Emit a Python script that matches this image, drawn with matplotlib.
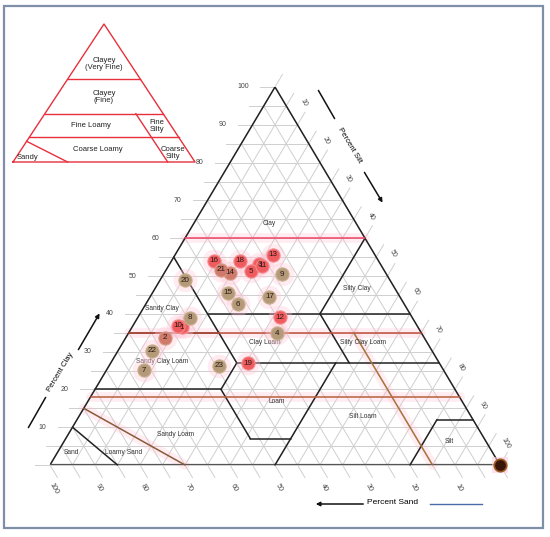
import numpy as np
import matplotlib.pyplot as plt
from matplotlib.patches import Rectangle, FancyArrowPatch

plt.rcParams['font.family'] = ['Liberation Sans', 'DejaVu Sans']

W, H = 550, 537

# soil samples: number, sand %, clay % (silt = rest)
sample_ids = [1, 2, 3, 4, 5, 6, 7, 8, 9, 10, 11, 12, 13, 14, 15, 16, 17, 18, 19, 20, 21, 22, 23]
sample_sand = [52.5, 57.7, 26.9, 32.2, 29.7, 37.0, 66.6, 49.4, 23.3, 53.1, 26.5, 29.3,
               22.6, 34.5, 37.7, 36.6, 29.0, 30.8, 42.5, 45.6, 36.2, 62.3, 49.2]
sample_clay = [36.4, 33.7, 53.1, 34.8, 51.3, 42.5, 25.1, 38.9, 50.5, 36.8, 52.7, 39.1,
               55.6, 50.9, 45.6, 54.0, 44.5, 54.0, 26.9, 48.9, 51.6, 30.2, 26.3]
sample_group = ['r', 'm', 'r', 't', 'r', 't', 't', 't', 't', 'r', 'r', 'r',
                'r', 'm', 't', 'r', 't', 'r', 'r', 't', 'm', 't', 't']
corner_sand, corner_clay = 0, 0

# USDA texture class boundaries as (sand, clay) segments
usda_lines = [
    [(45, 55), (45, 27)],
    [(45, 40), (0, 40)],
    [(0, 60), (20, 40)],
    [(65, 35), (45, 35)],
    [(45, 27), (0, 27)],
    [(20, 40), (20, 27)],
    [(45, 27), (52, 20)],
    [(80, 20), (52, 20)],
    [(52, 20), (52, 7)],
    [(52, 7), (43, 7)],
    [(23, 27), (50, 0)],
    [(20, 0), (8, 12)],
    [(8, 12), (0, 12)],
    [(90, 10), (85, 0)],
]
# family class boundaries
family_lines = [
    ([(40, 60), (0, 60)], '#ee4466'),
    ([(65, 35), (0, 35)], '#c0503c'),
    ([(82, 18), (0, 18)], '#b8603c'),
    ([(15, 35), (15, 0)], '#a8743c'),
    ([(85, 15), (70, 0)], '#8a5a3a'),
]

class_names = ['Clay', 'Silty Clay', 'Sandy Clay', 'Clay Loam', 'Silty Clay Loam',
               'Sandy Clay Loam', 'Loam', 'Silt Loam', 'Silt', 'Sandy Loam', 'Loamy Sand', 'Sand']
class_sand = [19.3, 8.4, 54.4, 36.0, 14.2, 61.4, 41.1, 24.1, 8.0, 67.9, 82.0, 93.7]
class_clay = [64.0, 46.8, 41.5, 32.5, 32.5, 27.5, 16.9, 12.7, 6.3, 8.2, 3.2, 3.2]

inset_names = ['Clayey\n(Very Fine)', 'Clayey\n(Fine)', 'Fine Loamy', 'Fine\nSilty',
               'Coarse Loamy', 'Coarse\nSilty', 'Sandy']
inset_x = [50, 50, 42.9, 79.1, 46.7, 87.9, 8.2]
inset_y = [71, 47.1, 26.1, 26.1, 8.7, 6.5, 3.6]

ticks = list(range(10, 101, 10))


def tern(sand, clay):
    silt = 100 - sand - clay
    return silt + clay / 2, clay


def draw_seg(ax, seg, **kw):
    xs, ys = zip(*[tern(s, c) for s, c in seg])
    ax.plot(xs, ys, solid_capstyle='round', clip_on=False, **kw)


fig = plt.figure(figsize=(W / 100, H / 100), dpi=100)
ax = fig.add_axes([50 / W, 72 / H, 450 / W, 378 / H])
ax.set_xlim(0, 100)
ax.set_ylim(0, 100)
ax.axis('off')

grid = dict(color='#cfcfcf', lw=0.7, zorder=1)
ext = 3.3
for v in range(0, 101, 5):
    # clay (horizontal) + tick to the left
    x0, y0 = tern(100 - v, v)
    x1, y1 = tern(0, v)
    ax.plot([x0 - ext, x1], [y0, y1], clip_on=False, **grid)
    # sand lines + tick below
    x0, y0 = tern(v, 0)
    x1, y1 = tern(v, 100 - v)
    ax.plot([x0 + ext / 2, x1], [y0 - ext, y1], clip_on=False, **grid)
    # silt lines + tick to the upper right
    x0, y0 = tern(100 - v, 0)
    x1, y1 = tern(0, 100 - v)
    ax.plot([x0, x1 + ext / 2], [y0, y1 + ext], clip_on=False, **grid)

# outline
ax.plot([0, 50, 100], [0, 100, 0], color='#222222', lw=1.1, zorder=4)
ax.plot([0, 100], [0, 0], color='#555555', lw=1.6, zorder=4)

for seg in usda_lines:
    draw_seg(ax, seg, color='#222222', lw=1.1, zorder=4)
for seg, col in family_lines:
    draw_seg(ax, seg, color='#ffb8cc', lw=7, alpha=0.25, zorder=2)
    draw_seg(ax, seg, color=col, lw=1.1, zorder=5)

for name, s, c in zip(class_names, class_sand, class_clay):
    x, y = tern(s, c)
    ax.text(x, y, name, fontsize=4.8, color='#333333', ha='center', va='center', zorder=6)

# tick labels
for v in ticks:
    x, y = tern(100 - v, v)
    ax.text(x - 5.8, y, str(v), fontsize=5, color='#444444', ha='right', va='center')
    x, y = tern(0, 100 - v)
    ax.text(x + 1.3, y + 5.8, str(v), fontsize=5, color='#444444', ha='center', va='center',
            rotation=-60)
    x, y = tern(v, 0)
    ax.text(x + 0.9, y - 6.1, str(v), fontsize=5.2, color='#444444', ha='center', va='center',
            rotation=-60)

# samples
fill = {'r': '#ef5b5f', 'm': '#cf7a6a', 't': '#b49a78'}
edge = {'r': '#f58a8c', 'm': '#d89a88', 't': '#c9b08e'}
for n, s, c, g in zip(sample_ids, sample_sand, sample_clay, sample_group):
    x, y = tern(s, c)
    ax.plot(x, y, 'o', ms=17, color='#ffc6d6', alpha=0.35, mew=0, zorder=6)
    ax.plot(x, y, 'o', ms=9.5, mfc=fill[g], mec=edge[g], mew=0.8, zorder=7)
    ax.text(x, y, str(n), fontsize=5.8, color='#2a1a14', ha='center', va='center', zorder=8)
x, y = tern(corner_sand, corner_clay)
ax.plot(x, y, 's', ms=12, color='#ffd0e0', alpha=0.6, mew=0, zorder=6, clip_on=False)
ax.plot(x, y, 'o', ms=9, mfc='#3a1608', mec='#9a5a20', mew=1.2, zorder=7, clip_on=False)

# inset family triangle
ins = fig.add_axes([13 / W, (H - 162) / H, 182 / W, 138 / H])
ins.set_xlim(0, 100)
ins.set_ylim(0, 100)
ins.axis('off')
ins.plot([0, 50, 100, 0], [0, 100, 0, 0], color='#e8303c', lw=1.0, clip_on=False)
for seg, col in family_lines:
    xs, ys = zip(*[tern(s, c) for s, c in seg])
    ins.plot(xs, ys, color='#e8303c', lw=1.0, clip_on=False)
for name, x, y in zip(inset_names, inset_x, inset_y):
    ins.text(x, y, name, fontsize=5.5, color='#222222', ha='center', va='center',
             linespacing=1.0)


# axis titles and arrows (figure pixels)
def fp(x, y):
    return x / W, 1 - y / H


def fline(p0, p1, arrow=False):
    if arrow:
        kw = dict(arrowstyle='-|>', mutation_scale=6, lw=1.1, color='#111111')
    else:
        kw = dict(arrowstyle='-', lw=1.1, color='#111111')
    fig.add_artist(FancyArrowPatch(fp(*p0), fp(*p1), transform=fig.transFigure, **kw))


fline((27, 430), (47, 395))
fline((77, 352), (101, 311), arrow=True)
fig.text(*fp(60, 372), 'Percent Clay', fontsize=5.6, rotation=59, ha='center', va='center')

fline((317, 88), (336, 121))
fline((363, 170), (384, 205), arrow=True)
fig.text(*fp(350, 145), 'Percent Silt', fontsize=5.6, rotation=-59, ha='center', va='center')

fline((366, 504), (313, 504), arrow=True)
fig.text(*fp(393, 502), 'Percent Sand', fontsize=6, ha='center', va='center')
fig.add_artist(plt.Line2D([430 / W, 482 / W], [1 - 504 / H] * 2, color='#4a6aa8', lw=1.0,
                          transform=fig.transFigure))

fig.add_artist(Rectangle(fp(4, 528), 539 / W, 522 / H, transform=fig.transFigure,
                         fill=False, edgecolor='#7f8fa8', lw=1.6))

fig.savefig('out.png', dpi=100, facecolor='white')
